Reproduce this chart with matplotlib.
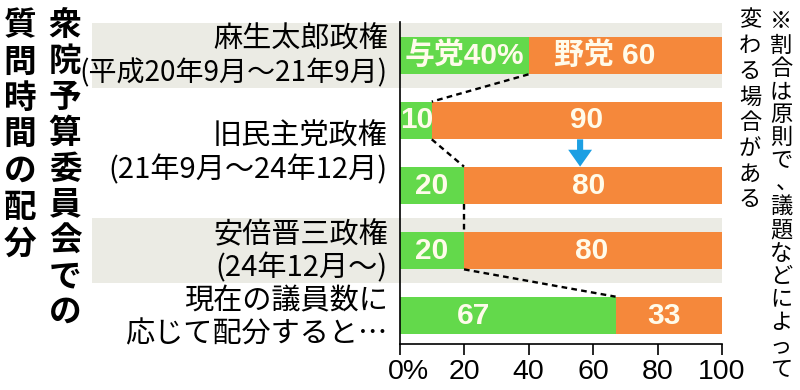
"""衆院予算委員会での質問時間の配分 : 与党 / 野党の割合を横棒で比べる."""
import matplotlib

matplotlib.use("Agg")  # pas d'affichage
import matplotlib.pyplot as plt  # noqa: E402
from matplotlib.transforms import ScaledTranslation  # noqa: E402

plt.rcParams["font.family"] = ["Noto Sans CJK JP", "DejaVu Sans"]

# --- données ---------------------------------------------------------------
categories = [
    ("麻生太郎政権", "(平成20年9月～21年9月)"),
    ("旧民主党政権", "(21年9月～24年12月)"),
    ("安倍晋三政権", "(24年12月～)"),
    ("現在の議員数に", "応じて配分すると…"),
]
ruling = [40, 10, 20, 20, 67]
opposition = [60, 90, 80, 80, 33]
ruling_labels = ["与党40%", "10", "20", "20", "67"]
opposition_labels = ["野党 60", "90", "80", "80", "33"]
shaded_rows = [0, 3]
ticks = [0, 20, 40, 60, 80, 100]
tick_labels = ["0%", "20", "40", "60", "80", "100"]
title_cols = ["衆院予算委員会での", "質問時間の配分"]
note_cols = ["※割合は原則で、議題などによって", "変わる場合がある"]

# --- style -----------------------------------------------------------------
W, H = 800, 390
GREEN = "#63d94b"
ORANGE = "#f5883b"
GRAY = "#ebebe4"
BLUE = "#1c9fe3"
TXT_W = "#fffbea"
BAR_H = 0.58
NUM_FONT = ["Liberation Sans", "Noto Sans CJK JP"]


def vertical_text(fig, text, x, y0, step, **kw):
    """Écrit `text` en colonne verticale (coordonnées en pixels, origine en haut)."""
    for k, ch in enumerate(text):
        # en vertical, la virgule se place en haut à droite de sa case
        dx, dy = (6, 0) if ch == "、" else (0, 0)
        fig.text((x + dx) / W, 1 - (y0 + k * step + dy) / H, ch,
                 ha="center", va="center", **kw)


fig = plt.figure(figsize=(W / 100, H / 100), dpi=100)
ax = fig.add_axes([399.5 / W, 46 / H, 322.5 / W, 322 / H])
rows = list(range(len(ruling)))

# bandes grises derrière certaines lignes (débordent sur la zone des libellés)
for r in shaded_rows:
    ax.barh(r, 195.3, left=-95.3, height=1.0, color=GRAY, zorder=0, clip_on=False)

ax.barh(rows, ruling, height=BAR_H, color=GREEN, zorder=2)
ax.barh(rows, opposition, left=ruling, height=BAR_H, color=ORANGE, zorder=2)

# pointillés reliant la frontière entre deux barres successives
for i in range(len(ruling) - 1):
    ax.plot([ruling[i], ruling[i + 1]], [i + BAR_H / 2, i + 1 - BAR_H / 2],
            ls=(0, (2.4, 1.8)), color="black", lw=1.7, zorder=3)

# flèche bleue entre les deux barres du gouvernement PDJ
ax.arrow(56, 1 + BAR_H / 2, 0, 1 - BAR_H, width=1.9, head_width=7.4,
         head_length=0.26, length_includes_head=True, color=BLUE, lw=0, zorder=3)

# valeurs dans les barres
ruling_x = [20, 5.3, 10, 10, 23]
opposition_x = [63.7, 58, 58.5, 59.7, 82]
for i in rows:
    ax.text(ruling_x[i], i, ruling_labels[i], ha="center", va="center",
            color=TXT_W, fontsize=21.5, fontweight="bold", family=NUM_FONT, zorder=4)
    ax.text(opposition_x[i], i, opposition_labels[i], ha="center", va="center",
            color=TXT_W, fontsize=21.5, fontweight="bold", family=NUM_FONT, zorder=4)

# libellés des catégories (deux lignes, alignés à droite)
label_rows = [0, 1.49, 3, 4.02]
second_size = [20.2, 21, 21, 21]  # la 1re période est un peu plus serrée
for (l1, l2), r, fs in zip(categories, label_rows, second_size):
    ax.text(-3.6, r - 0.24, l1, ha="right", va="center", fontsize=21, clip_on=False)
    ax.text(-3.6, r + 0.27, l2, ha="right", va="center", fontsize=fs, clip_on=False)

ax.set_xlim(0, 100)
ax.set_ylim(4.438, -0.515)
ax.set_yticks([])
ax.set_xticks(ticks)
ax.set_xticklabels(tick_labels, family=NUM_FONT, fontsize=20.5)
ax.tick_params(axis="x", direction="out", length=8, width=1.2, pad=3)
for side in ("top", "right"):
    ax.spines[side].set_visible(False)
for side in ("left", "bottom"):
    ax.spines[side].set_linewidth(1.2)
    ax.spines[side].set_zorder(5)

# "0%" : le zéro centré sur la graduation, le % déborde à droite
first = ax.get_xticklabels()[0]
first.set_horizontalalignment("left")
first.set_transform(first.get_transform()
                    + ScaledTranslation(-8.2 / 72, 0, fig.dpi_scale_trans))

# titre vertical à gauche, note verticale à droite
vertical_text(fig, title_cols[0], 65, 26, 35.8, fontsize=23.5, fontweight="bold")
vertical_text(fig, title_cols[1], 20, 26, 36.3, fontsize=23.5, fontweight="bold")
vertical_text(fig, note_cols[0], 781, 22, 23.1, fontsize=16)
vertical_text(fig, note_cols[1], 750, 20, 25.7, fontsize=16)

fig.savefig("out.png", dpi=100)
plt.close(fig)
